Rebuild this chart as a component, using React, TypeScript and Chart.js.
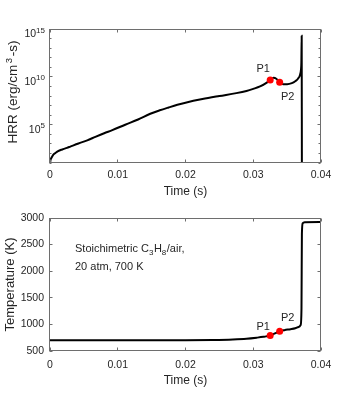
import React, { useEffect, useRef } from 'react';
import { Chart, registerables } from 'chart.js';

Chart.register(...registerables);

const FONT_FAMILY = '"Liberation Sans", Arial, Helvetica, sans-serif';
const TEXT_COLOR = '#262626';
const BOX_COLOR = '#6e6e6e';

// ---- axes ----
const timeTicks = [0, 0.01, 0.02, 0.03, 0.04];
const hrrTickValues = [1e5, 1e10, 1e15];
const hrrTickExponents = ['5', '10', '15'];
const hrrDecades = [1e1, 1e2, 1e3, 1e4, 1e5, 1e6, 1e7, 1e8, 1e9, 1e10, 1e11, 1e12, 1e13, 1e14, 1e15];
const tempTicks = [500, 1000, 1500, 2000, 2500, 3000];

// ---- heat release rate (erg/cm^3-s) ----
const hrrTime = [
  0, 0.00005, 0.00015, 0.0003, 0.0005, 0.0008, 0.0012, 0.0018, 0.0025, 0.003,
  0.0042, 0.0055, 0.0067, 0.008, 0.0092, 0.0111, 0.013, 0.0148, 0.0162, 0.0175,
  0.0188, 0.02, 0.0225, 0.025, 0.0275, 0.029, 0.03, 0.031, 0.032, 0.0325,
  0.033, 0.0334, 0.0339, 0.0344, 0.035, 0.0357, 0.0362, 0.0366, 0.0369, 0.03705,
  0.0371, 0.03715, 0.03718,
];
const hrrValue = [
  5, 16, 28, 45, 75, 110, 175, 260, 380, 520,
  1.1e3, 2.3e3, 5.4e3, 1.3e4, 2.7e4, 1.0e5, 3.5e5, 1.4e6, 3.2e6, 6.3e6,
  1.2e7, 2.0e7, 4.8e7, 1.0e8, 2.0e8, 3.4e8, 5.6e8, 1.0e9, 2.5e9, 4.8e9,
  7.9e9, 6.3e9, 2.8e9, 1.7e9, 1.7e9, 2.2e9, 3.5e9, 6.3e9, 1.6e10, 6.3e10,
  3.2e11, 2.0e14, 1,
];

// ---- temperature (K) ----
const tempTime = [
  0, 0.01, 0.02, 0.024, 0.027, 0.029, 0.0305, 0.0315, 0.0325, 0.0332,
  0.0339, 0.0346, 0.0355, 0.0362, 0.0367, 0.037, 0.03712, 0.03718, 0.0373, 0.0376,
  0.04,
];
const tempValue = [
  700, 700, 702, 708, 718, 731, 750, 766, 790, 830,
  871, 892, 910, 928, 952, 990, 1300, 2700, 2900, 2922,
  2925,
];

// ---- marked points ----
const pointLabels = ['P1', 'P2'];
const pointTime = [0.0325, 0.0339];
const pointHrr = [4.8e9, 2.8e9];
const pointTemp = [790, 871];

const font = (size: number) => `${size}px ${FONT_FAMILY}`;

function framePlugin(yTicks: number[], majorTicks: number[] | null) {
  return {
    id: 'frame',
    afterDatasetsDraw(chart: any) {
      const { ctx, chartArea: a, scales } = chart;
      const L = Math.round(a.left) - 0.5;
      const R = Math.round(a.right) - 0.5;
      const T = Math.round(a.top) + 0.5;
      const B = Math.round(a.bottom) - 0.5;
      ctx.save();
      ctx.strokeStyle = BOX_COLOR;
      ctx.lineWidth = 1;
      ctx.beginPath();
      for (const v of timeTicks) {
        const x = Math.floor(scales.x.getPixelForValue(v)) + 0.5;
        ctx.moveTo(x, B); ctx.lineTo(x, B - 3);
        ctx.moveTo(x, T); ctx.lineTo(x, T + 3);
      }
      for (const v of yTicks) {
        const y = Math.floor(scales.y.getPixelForValue(v)) + 0.5;
        const len = majorTicks && !majorTicks.includes(v) ? 2 : 3;
        ctx.moveTo(L, y); ctx.lineTo(L + len, y);
        ctx.moveTo(R, y); ctx.lineTo(R - len, y);
      }
      ctx.stroke();
      ctx.strokeRect(L, T, R - L, B - T);
      ctx.restore();
    },
  };
}

function pointLabelPlugin(offsets: number[][]) {
  return {
    id: 'pointLabels',
    afterDraw(chart: any) {
      const meta = chart.getDatasetMeta(0);
      const { ctx } = chart;
      ctx.save();
      ctx.font = font(11);
      ctx.fillStyle = TEXT_COLOR;
      ctx.textAlign = 'center';
      ctx.textBaseline = 'middle';
      meta.data.forEach((el: any, i: number) => {
        ctx.fillText(pointLabels[i], el.x + offsets[i][0], el.y + offsets[i][1]);
      });
      ctx.restore();
    },
  };
}

const logTickLabelPlugin = {
  id: 'logTickLabels',
  afterDraw(chart: any) {
    const { ctx, scales } = chart;
    const right = 45;
    ctx.save();
    ctx.fillStyle = TEXT_COLOR;
    ctx.textBaseline = 'alphabetic';
    ctx.textAlign = 'left';
    hrrTickValues.forEach((v, i) => {
      const y = scales.y.getPixelForValue(v);
      ctx.font = font(8);
      const ew = ctx.measureText(hrrTickExponents[i]).width;
      ctx.font = font(10.5);
      const bw = ctx.measureText('10').width;
      const x0 = right - ew - bw;
      ctx.fillText('10', x0, y + 8);
      ctx.font = font(8);
      ctx.fillText(hrrTickExponents[i], x0 + bw, y + 3.5);
    });
    ctx.restore();
  },
};

// y-axis title with a real superscript: HRR (erg/cm^3-s)
const hrrTitlePlugin = {
  id: 'hrrTitle',
  afterDraw(chart: any) {
    const { ctx, chartArea: a } = chart;
    const parts: [string, boolean][] = [['HRR (erg/cm', false], ['3', true], ['-s)', false]];
    ctx.save();
    ctx.fillStyle = TEXT_COLOR;
    ctx.textBaseline = 'alphabetic';
    ctx.textAlign = 'left';
    let total = 0;
    for (const [t, sup] of parts) {
      ctx.font = font(sup ? 9.5 : 13.5);
      total += ctx.measureText(t).width + (sup ? 3 : 0);
    }
    ctx.translate(17, (a.top + a.bottom) / 2 - 4);
    ctx.rotate(-Math.PI / 2);
    let cx = -total / 2;
    for (const [t, sup] of parts) {
      ctx.font = font(sup ? 9.5 : 13.5);
      if (sup) cx += 1.5;
      ctx.fillText(t, cx, sup ? -5.5 : 0);
      cx += ctx.measureText(t).width + (sup ? 1.5 : 0);
    }
    ctx.restore();
  },
};

const annotationPlugin = {
  id: 'annotation',
  afterDraw(chart: any) {
    const { ctx, chartArea: a } = chart;
    const x = a.left + 25;
    const y1 = a.top + 33.5;
    const y2 = a.top + 51.5;
    const parts: [string, boolean][] = [
      ['Stoichimetric C', false], ['3', true], ['H', false], ['8', true], ['/air,', false],
    ];
    ctx.save();
    ctx.fillStyle = TEXT_COLOR;
    ctx.textAlign = 'left';
    ctx.textBaseline = 'alphabetic';
    let cx = x;
    for (const [t, sub] of parts) {
      ctx.font = font(sub ? 8 : 11);
      ctx.fillText(t, cx, sub ? y1 + 3 : y1);
      cx += ctx.measureText(t).width + (sub ? 0.5 : 0);
    }
    ctx.font = font(11);
    ctx.fillText('20 atm, 700 K', x, y2);
    ctx.restore();
  },
};

function xScale(labelPad: number, titlePadBottom: number, height: number) {
  return {
    type: 'linear',
    min: 0,
    max: 0.04,
    afterBuildTicks: (s: any) => { s.ticks = timeTicks.map((v) => ({ value: v })); },
    afterFit: (s: any) => { s.height = height; },
    grid: { display: false, drawTicks: false },
    border: { display: false },
    ticks: {
      autoSkip: false,
      maxRotation: 0,
      padding: labelPad,
      color: TEXT_COLOR,
      font: { family: FONT_FAMILY, size: 10.5 },
      callback: (v: any) => String(+Number(v).toFixed(2)),
    },
    title: {
      display: true,
      text: 'Time (s)',
      color: TEXT_COLOR,
      font: { family: FONT_FAMILY, size: 12 },
      padding: { top: 0, bottom: titlePadBottom },
    },
  };
}

function ChartCanvas({ config, top, height }: { config: () => any; top: number; height: number }) {
  const ref = useRef<HTMLCanvasElement | null>(null);
  useEffect(() => {
    const chart = new Chart(ref.current as HTMLCanvasElement, config());
    return () => chart.destroy();
  }, []);
  return (
    <canvas
      ref={ref}
      width={354}
      height={height}
      style={{ position: 'absolute', left: 0, top, width: 354, height, display: 'block' }}
    />
  );
}

const hrrConfig = () => ({
  type: 'line',
  data: {
    datasets: [
      {
        data: pointTime.map((t, i) => ({ x: t, y: pointHrr[i] })),
        showLine: false,
        pointRadius: 3.5,
        pointBorderWidth: 0,
        pointBackgroundColor: '#ff0000',
        order: 0,
      },
      {
        data: hrrTime.map((t, i) => ({ x: t, y: hrrValue[i] })),
        borderColor: '#000000',
        borderWidth: 2,
        pointRadius: 0,
        fill: false,
        cubicInterpolationMode: 'monotone',
        order: 1,
      },
    ],
  },
  options: {
    animation: false,
    responsive: false,
    devicePixelRatio: 1,
    layout: { padding: { left: 0, right: 33, top: 29, bottom: 0 } },
    plugins: { legend: { display: false }, tooltip: { enabled: false } },
    scales: {
      x: xScale(6, 1, 37),
      y: {
        type: 'logarithmic',
        min: 10,
        max: 1e15,
        afterBuildTicks: (s: any) => { s.ticks = hrrTickValues.map((v) => ({ value: v })); },
        afterFit: (s: any) => { s.width = 50; },
        grid: { display: false, drawTicks: false },
        border: { display: false },
        ticks: { display: false },
        title: { display: false },
      },
    },
  },
  plugins: [
    framePlugin(hrrDecades, hrrTickValues),
    logTickLabelPlugin,
    hrrTitlePlugin,
    pointLabelPlugin([[-7, -11], [8, 15]]),
  ],
});

const tempConfig = () => ({
  type: 'line',
  data: {
    datasets: [
      {
        data: pointTime.map((t, i) => ({ x: t, y: pointTemp[i] })),
        showLine: false,
        pointRadius: 3.5,
        pointBorderWidth: 0,
        pointBackgroundColor: '#ff0000',
        order: 0,
      },
      {
        data: tempTime.map((t, i) => ({ x: t, y: tempValue[i] })),
        borderColor: '#000000',
        borderWidth: 2,
        pointRadius: 0,
        fill: false,
        cubicInterpolationMode: 'monotone',
        order: 1,
      },
    ],
  },
  options: {
    animation: false,
    responsive: false,
    devicePixelRatio: 1,
    layout: { padding: { left: 0, right: 33, top: 18, bottom: 0 } },
    plugins: { legend: { display: false }, tooltip: { enabled: false } },
    scales: {
      x: xScale(8, 9, 46),
      y: {
        type: 'linear',
        min: 500,
        max: 3000,
        afterBuildTicks: (s: any) => { s.ticks = tempTicks.map((v) => ({ value: v })); },
        afterFit: (s: any) => { s.width = 50; },
        grid: { display: false, drawTicks: false },
        border: { display: false },
        ticks: {
          padding: 6,
          color: TEXT_COLOR,
          font: { family: FONT_FAMILY, size: 10.5 },
          callback: (v: any) => String(v),
        },
        title: {
          display: true,
          text: 'Temperature (K)',
          color: TEXT_COLOR,
          font: { family: FONT_FAMILY, size: 13 },
          padding: { top: 3, bottom: 0 },
        },
      },
    },
  },
  plugins: [framePlugin(tempTicks, null), annotationPlugin, pointLabelPlugin([[-7, -9], [8, -13]])],
});

export default function App() {
  return (
    <div style={{ position: 'absolute', left: 0, top: 0, width: 354, height: 397, background: '#ffffff' }}>
      <ChartCanvas config={hrrConfig} top={0} height={200} />
      <ChartCanvas config={tempConfig} top={200} height={197} />
    </div>
  );
}
